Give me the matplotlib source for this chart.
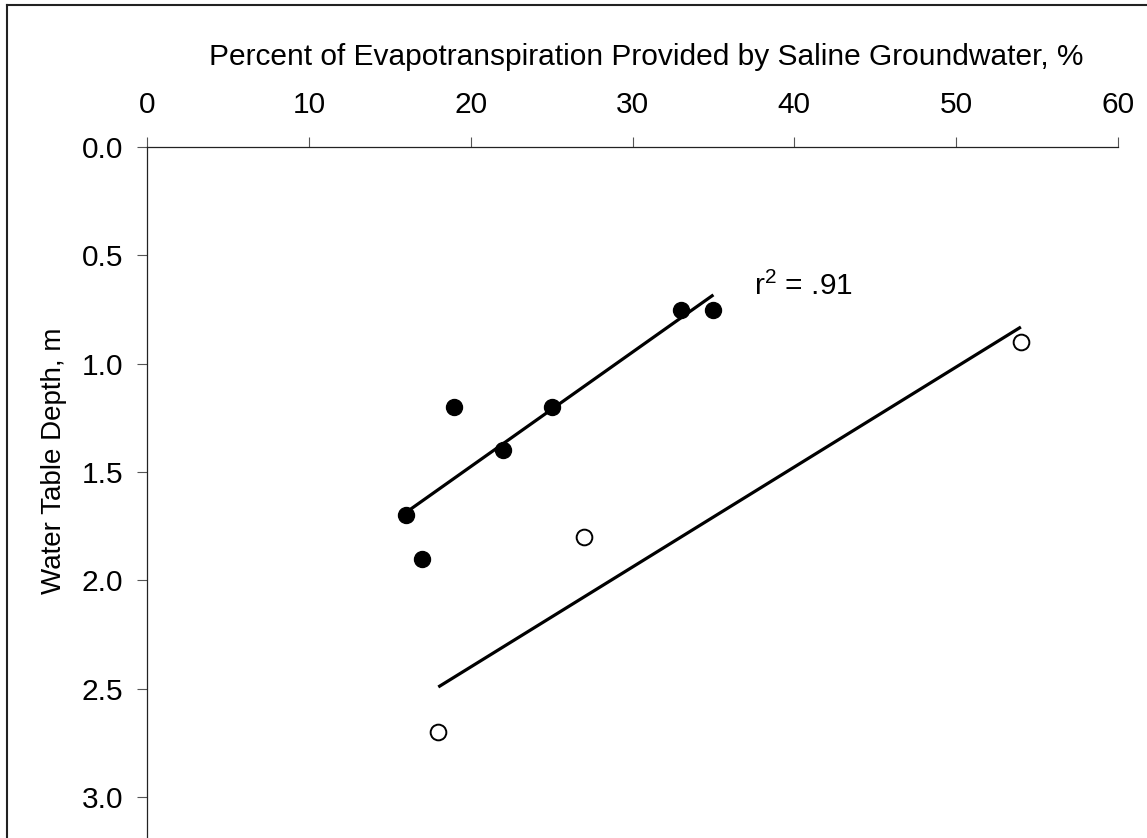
import numpy as np
import matplotlib
matplotlib.use("Agg")
import matplotlib.pyplot as plt
from matplotlib.lines import Line2D

plt.rcParams['font.family'] = ['Liberation Sans', 'DejaVu Sans']
plt.rcParams['mathtext.fontset'] = 'custom'
plt.rcParams['mathtext.rm'] = 'Liberation Sans'
plt.rcParams['mathtext.it'] = 'Liberation Sans'

# filled points (fit with r^2 = .91)
filled_pct = [16, 17, 19, 22, 25, 33, 35]
filled_depth = [1.7, 1.9, 1.2, 1.4, 1.2, 0.75, 0.75]

# open points
open_pct = [27, 18, 54]
open_depth = [1.8, 2.7, 0.9]

x_ticks = [0, 10, 20, 30, 40, 50, 60]
y_ticks = [0.0, 0.5, 1.0, 1.5, 2.0, 2.5, 3.0]

FS = 21.5
W, H = 1147, 838
fig = plt.figure(figsize=(W / 100, H / 100), dpi=100)
ax = fig.add_axes([147 / W, 0, (1118 - 147) / W, (H - 147) / H])

# regression lines over the range of each group
for xs, ys in [(filled_pct, filled_depth), (open_pct, open_depth)]:
  slope, icpt = np.polyfit(xs, ys, 1)
  xl = np.array([min(xs), max(xs)])
  ax.plot(xl, slope * xl + icpt, color='black', lw=2.3, solid_capstyle='butt', zorder=2)

ax.plot(filled_pct, filled_depth, 'o', ms=11.5, color='black', zorder=3)
ax.plot(open_pct, open_depth, 'o', ms=11.3, mfc='white', mec='black', mew=1.4, zorder=3)

ax.text(37.5, 0.683, r'r$^{2}$ = .91', fontsize=FS, va='baseline', ha='left')

ax.set_xlim(0, 60)
ax.set_ylim(3 + (H - 797) / 216.67, 0)
ax.set_xticks(x_ticks)
ax.set_yticks(y_ticks)
ax.set_yticklabels([f'{v:.1f}' for v in y_ticks])
ax.xaxis.tick_top()
ax.tick_params(axis='x', direction='out', length=7, width=0.8, pad=13,
               labelsize=FS, color='#555555')
ax.tick_params(axis='y', direction='out', length=7, width=0.8, pad=10,
               labelsize=FS, color='#555555')
ax.spines['right'].set_visible(False)
ax.spines['bottom'].set_visible(False)
for s in ['top', 'left']:
  ax.spines[s].set_linewidth(0.9)
  ax.spines[s].set_color('#222222')

fig.text(646 / W, 1 - 57 / H, 'Percent of Evapotranspiration Provided by Saline Groundwater, %',
         fontsize=FS, ha='center', va='center')
fig.text(54 / W, 1 - 461 / H, 'Water Table Depth, m', fontsize=20,
         rotation=90, ha='center', va='center')

# outer frame (top and left visible)
fig.add_artist(Line2D([7.5 / W, 7.5 / W], [0, 1 - 5 / H], color='#222222', lw=1.5))
fig.add_artist(Line2D([7.5 / W, 1146 / W], [1 - 5 / H, 1 - 5 / H], color='#222222', lw=1.5))

fig.savefig('out.png', dpi=100)
